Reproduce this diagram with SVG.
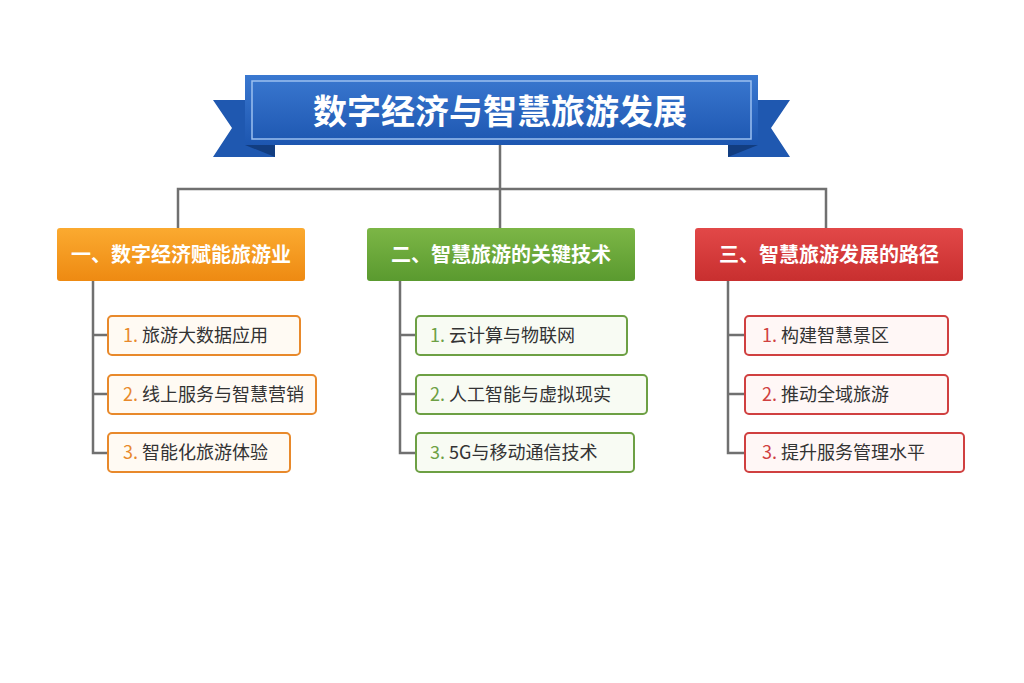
<svg xmlns="http://www.w3.org/2000/svg" width="1024" height="683" viewBox="0 0 1024 683">
<defs>
<style>
text{font-family:"Noto Sans CJK SC","Noto Sans",sans-serif}
.ln{fill:none;stroke:#707070;stroke-width:2.5}
.h{font-size:20px;font-weight:bold;fill:#fff}
.c{font-size:18px;fill:#333}
.o{fill:#fffaf3;stroke:#e8892b;stroke-width:2}
.g{fill:#f8fbf3;stroke:#6da044;stroke-width:2}
.r{fill:#fff7f6;stroke:#d04040;stroke-width:2}
</style>
<linearGradient id="go" x1="0" y1="0" x2="0" y2="1"><stop offset="0" stop-color="#fbaa30"/><stop offset="1" stop-color="#ee8a12"/></linearGradient>
<linearGradient id="gg" x1="0" y1="0" x2="0" y2="1"><stop offset="0" stop-color="#7cb646"/><stop offset="1" stop-color="#5a9a2f"/></linearGradient>
<linearGradient id="gr" x1="0" y1="0" x2="0" y2="1"><stop offset="0" stop-color="#e24848"/><stop offset="1" stop-color="#c82f2f"/></linearGradient>
<linearGradient id="gb" x1="0" y1="0" x2="0" y2="1"><stop offset="0" stop-color="#3a78d0"/><stop offset="1" stop-color="#1d56b0"/></linearGradient>
</defs>
<rect width="1024" height="683" fill="#fff"/>
<g id="connectors">
<path class="ln" d="M500 145V189M178 228V189H826V228M500 189V228"/>
<path class="ln" d="M93 281V453H108M93 335H108M93 394H108"/>
<path class="ln" d="M400 281V453H416M400 335H416M400 394H416"/>
<path class="ln" d="M728 281V453H745M728 335H745M728 394H745"/>
</g>
<g id="title">
<polygon points="213,100 275,100 275,157 245,157 213,157 232,128" fill="#1f58b0"/>
<polygon points="790,100 728,100 728,157 758,157 790,157 771,128" fill="#1f58b0"/>
<polygon points="245,145 275,157 275,145" fill="#123d80"/>
<polygon points="758,145 728,157 728,145" fill="#123d80"/>
<rect x="245" y="75" width="513" height="70" fill="url(#gb)"/>
<rect x="252" y="81" width="499" height="58" fill="none" stroke="#9cc0f0" stroke-width="1.5"/>
<text x="500" y="124" text-anchor="middle" font-size="34" font-weight="bold" fill="#fff">数字经济与智慧旅游发展</text>
</g>
<g id="h1"><rect x="57" y="228" width="248" height="53" rx="3" fill="url(#go)"/><text class="h" x="181" y="262" text-anchor="middle">一、数字经济赋能旅游业</text></g>
<g id="h2"><rect x="367" y="228" width="268" height="53" rx="3" fill="url(#gg)"/><text class="h" x="501" y="262" text-anchor="middle">二、智慧旅游的关键技术</text></g>
<g id="h3"><rect x="695" y="228" width="268" height="53" rx="3" fill="url(#gr)"/><text class="h" x="829" y="262" text-anchor="middle">三、智慧旅游发展的路径</text></g>
<g id="o1"><rect class="o" x="108" y="316" width="192" height="39" rx="4"/><text class="c" x="123" y="342"><tspan fill="#e8892b">1.</tspan> 旅游大数据应用</text></g>
<g id="o2"><rect class="o" x="108" y="375" width="208" height="39" rx="4"/><text class="c" x="123" y="401"><tspan fill="#e8892b">2.</tspan> 线上服务与智慧营销</text></g>
<g id="o3"><rect class="o" x="108" y="433" width="182" height="39" rx="4"/><text class="c" x="123" y="459"><tspan fill="#e8892b">3.</tspan> 智能化旅游体验</text></g>
<g id="g1"><rect class="g" x="416" y="316" width="211" height="39" rx="4"/><text class="c" x="430" y="342"><tspan fill="#6da044">1.</tspan> 云计算与物联网</text></g>
<g id="g2"><rect class="g" x="416" y="375" width="231" height="39" rx="4"/><text class="c" x="430" y="401"><tspan fill="#6da044">2.</tspan> 人工智能与虚拟现实</text></g>
<g id="g3"><rect class="g" x="416" y="433" width="218" height="39" rx="4"/><text class="c" x="430" y="459"><tspan fill="#6da044">3.</tspan> 5G与移动通信技术</text></g>
<g id="r1"><rect class="r" x="745" y="316" width="203" height="39" rx="4"/><text class="c" x="762" y="342"><tspan fill="#d04040">1.</tspan> 构建智慧景区</text></g>
<g id="r2"><rect class="r" x="745" y="375" width="203" height="39" rx="4"/><text class="c" x="762" y="401"><tspan fill="#d04040">2.</tspan> 推动全域旅游</text></g>
<g id="r3"><rect class="r" x="745" y="433" width="219" height="39" rx="4"/><text class="c" x="762" y="459"><tspan fill="#d04040">3.</tspan> 提升服务管理水平</text></g>
</svg>
